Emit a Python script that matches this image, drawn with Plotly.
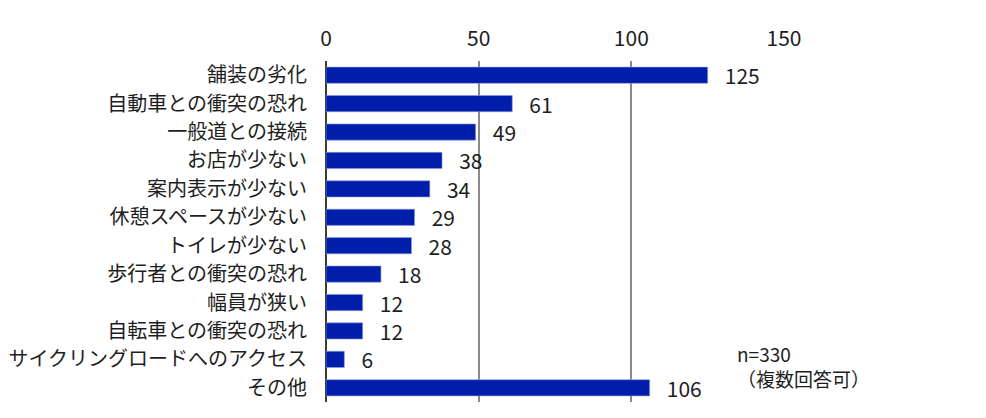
import plotly.graph_objects as go

# Data
categories = [
    "舗装の劣化", "自動車との衝突の恐れ", "一般道との接続", "お店が少ない",
    "案内表示が少ない", "休憩スペースが少ない", "トイレが少ない",
    "歩行者との衝突の恐れ", "幅員が狭い", "自転車との衝突の恐れ",
    "サイクリングロードへのアクセス", "その他",
]
counts = [125, 61, 49, 38, 34, 29, 28, 18, 12, 12, 6, 106]
x_ticks = [0, 50, 100, 150]
note_text = "n=330<br>（複数回答可）"

font_family = "Noto Sans CJK JP"

fig = go.Figure()
fig.add_trace(go.Bar(
    x=counts,
    y=categories,
    orientation="h",
    marker=dict(color="#001EAA", line=dict(color="#8C9BE0", width=0.6)),
    text=["\u00a0\u00a0\u00a0" + str(v) for v in counts],
    textposition="outside",
    constraintext="none",
    textfont=dict(size=21, color="#1E1E1E", family=font_family),
    cliponaxis=False,
    hoverinfo="x+y",
))

# page body adds an 8px offset, so the figure is 8px smaller than the window
fig.update_layout(
    width=978,
    height=410,
    margin=dict(l=318, r=202, t=53, b=16),
    paper_bgcolor="white",
    plot_bgcolor="white",
    showlegend=False,
    bargap=0.43,
    font=dict(family=font_family, color="#1E1E1E"),
    annotations=[dict(
        text=note_text,
        xref="paper", yref="paper",
        x=0.892, y=0.105,
        xanchor="left", yanchor="middle",
        align="left",
        showarrow=False,
        font=dict(size=19, color="#1E1E1E", family=font_family),
    )],
)

fig.update_xaxes(
    side="top",
    range=[0, 150],
    tickvals=x_ticks,
    ticktext=[str(t) for t in x_ticks],
    tickfont=dict(size=21, color="#1E1E1E"),
    ticklabelstandoff=10,
    showgrid=True,
    gridcolor="#8A8A8A",
    gridwidth=1.7,
    zeroline=True,
    zerolinecolor="#3C3C3C",
    zerolinewidth=1.8,
    showline=False,
    automargin=False,
    fixedrange=True,
)

fig.update_yaxes(
    categoryorder="array",
    categoryarray=categories,
    autorange="reversed",
    tickfont=dict(size=20, color="#1E1E1E"),
    ticklabelstandoff=18,
    showgrid=False,
    showline=False,
    zeroline=False,
    automargin=False,
    fixedrange=True,
)

fig.write_html("out.html")
